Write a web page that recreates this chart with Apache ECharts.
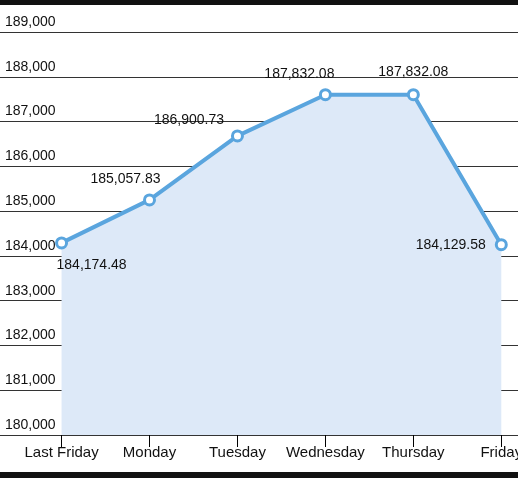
<!DOCTYPE html>
<html><head><meta charset="utf-8">
<script src="https://cdn.jsdelivr.net/npm/echarts@6/dist/echarts.min.js"></script>
<style>html,body{margin:0;padding:0;background:#fff}#c{width:518px;height:480px}</style>
</head><body><div id="c"></div>
<script>
var days = ['Last Friday', 'Monday', 'Tuesday', 'Wednesday', 'Thursday', 'Friday'];
var values = [184290, 185250, 186680, 187600, 187600, 184250];
var labels = ['184,174.48', '185,057.83', '186,900.73', '187,832.08', '187,832.08', '184,129.58'];
var labelPos = [['bottom', [30, 4]], ['top', [-24, -2]], ['left', [-2, -16]], ['top', [-26, -2]], ['top', [0, -4]], ['left', [-4, 0]]];
var font = '"Liberation Sans Narrow", "Liberation Sans", Arial, sans-serif';

var chart = echarts.init(document.getElementById('c'));
var data = values.map(function (v, i) {
    return {
        value: [i, v],
        label: { position: labelPos[i][0], offset: labelPos[i][1], formatter: labels[i] }
    };
});
chart.setOption({
    animation: false,
    grid: { left: 0, right: 0, top: 32, bottom: 45, outerBoundsMode: 'none', containLabel: false },
    xAxis: {
        type: 'value', min: -0.7, max: 5.19,
        splitLine: { show: false },
        axisLine: { show: false },
        axisTick: { show: true, customValues: [0, 1, 2, 3, 4, 5], length: 12, lineStyle: { color: '#000' } },
        axisLabel: {
            customValues: [0, 1, 2, 3, 4, 5], margin: 10,
            formatter: function (v) { return days[v]; },
            color: '#111', fontSize: 15, fontFamily: font
        }
    },
    yAxis: {
        type: 'value', min: 180000, max: 189000, interval: 1000,
        axisLine: { show: false }, axisTick: { show: false },
        splitLine: { lineStyle: { color: '#333', width: 1 } },
        axisLabel: {
            inside: true, verticalAlign: 'bottom', margin: 5, padding: [0, 0, 3, 0],
            formatter: function (v) { return v.toLocaleString('en-US'); },
            color: '#111', fontSize: 14, fontFamily: font
        }
    },
    series: [{
        type: 'line', data: data,
        symbol: 'circle', symbolSize: 10,
        lineStyle: { color: '#5aa5de', width: 4 },
        itemStyle: { color: '#fff', borderColor: '#5aa5de', borderWidth: 3 },
        areaStyle: { color: '#dde9f8', opacity: 1, origin: 'start' },
        label: { show: true, color: '#111', fontSize: 14, fontFamily: font }
    }],
    graphic: [
        { type: 'rect', shape: { x: 0, y: 0, width: 518, height: 5 }, style: { fill: '#111' } },
        { type: 'rect', shape: { x: 0, y: 472, width: 518, height: 6 }, style: { fill: '#111' } }
    ]
});
</script></body></html>
